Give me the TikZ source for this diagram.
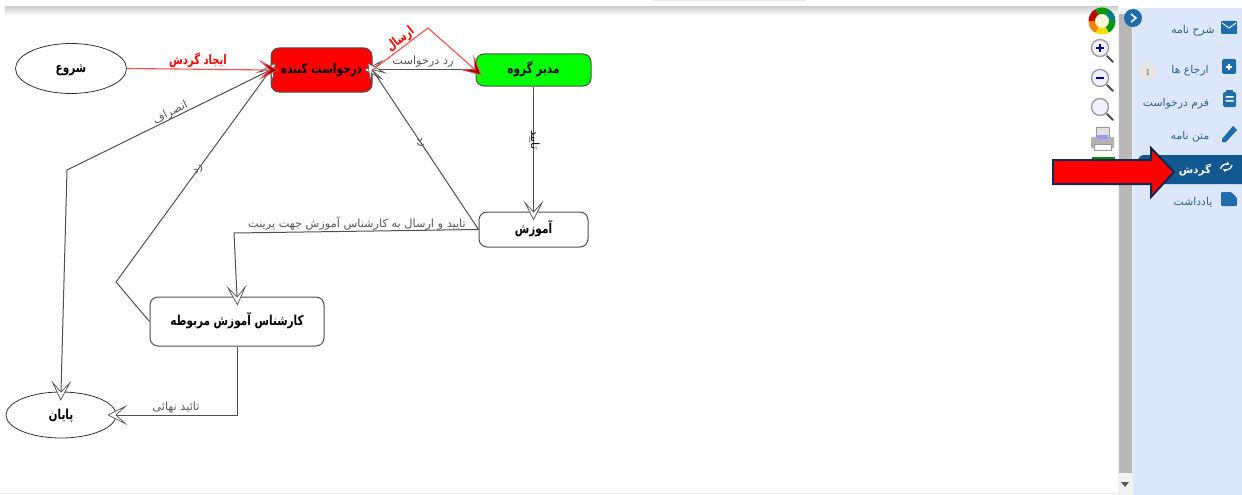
\documentclass[tikz,border=0pt]{standalone}
\usepackage{fontspec}
\usetikzlibrary{arrows.meta,shapes.geometric,calc}
\TeXXeTstate=1
\newfontfamily\fa[Script=Arabic]{DejaVu Sans}
\newcommand{\rl}[1]{{\fa\beginR #1\endR}}
\newcommand{\rlt}[1]{\raisebox{0pt}{\scalebox{1}[1.3]{\fa\beginR #1\endR}}}
\definecolor{panel}{HTML}{DDE7FB}
\definecolor{bluei}{HTML}{1F6CAC}
\definecolor{rowblue}{HTML}{10588F}
\definecolor{menutxt}{HTML}{2A6496}
\definecolor{navy}{HTML}{14284F}
\definecolor{linegray}{HTML}{505050}
\definecolor{softred}{HTML}{FF4A4A}
\tikzset{
  x=1pt,y=-1pt,
  txtbox/.style={text height=10pt,text depth=2pt,inner sep=0pt},
  state/.style={draw=linegray,line width=1pt,rounded corners=8pt,txtbox,font=\fontsize{10.5}{13}\selectfont\bfseries,text=black},
  oval/.style={draw=black!80,line width=.8pt,ellipse,fill=white,txtbox,font=\fontsize{10.5}{13}\selectfont\bfseries,text=black},
  opentip/.style={-{Stealth[length=20pt,width=20pt,inset=11pt,open,fill=white,color=linegray,line width=.7pt]},shorten >=-9pt},
  conn/.style={draw=linegray,line width=1pt,opentip},
  redconn/.style={draw=softred,line width=1.1pt,-{Stealth[length=20pt,width=20pt,inset=11pt,fill=red!60!black,color=softred,line width=.7pt]},shorten >=-8pt},
  lbl/.style={txtbox,font=\fontsize{11.3}{13}\selectfont,text=black!65},
  redlbl/.style={txtbox,font=\fontsize{10}{12}\selectfont\bfseries,text=red},
  menu/.style={txtbox,font=\fontsize{10.8}{12}\selectfont,text=menutxt},
  micon/.style={fill=bluei,draw=none},
  lens/.style={draw=gray!80,line width=1.3pt,fill=blue!6},
  lenshandle/.style={draw=black!70,line width=2pt,line cap=round},
}
\begin{document}
\begin{tikzpicture}
\useasboundingbox (0,0) rectangle (1242,495);
\fill[white] (0,0) rectangle (1242,495);
% frame shadow
\fill[blue!10] (652,0) rectangle (806,1);
\shade[top color=black!18,bottom color=white] (5,7) rectangle (1118,16);
\fill[black!8] (0,493) rectangle (1242,494);
% side panel and scrollbar
\fill[black!5] (1118,8) rectangle (1133,495);
\fill[black!28] (1119,14) rectangle (1132,473);
\fill[black!65] (1121,482) -- (1129,482) -- (1125,487) -- cycle;
\fill[panel] (1133,8) rectangle (1242,495);
\fill[rowblue,rounded corners=6pt] (1138,155) rectangle (1252,184);
% tool icons
\foreach \a/\c in {0/green!60!black,60/yellow!80!orange,120/orange,180/red!75!black,240/green!60!black,300/teal}{
  \fill[\c] (1102,21) ++(\a:13.5) arc[start angle=\a,end angle=\a+60,radius=13.5] -- (1102,21) -- cycle;}
\fill[white!85!yellow] (1102,21) circle (7);
\fill[bluei] (1133,18) circle (9);
\draw[white,line width=1.6pt] (1131,14) -- (1136,18) -- (1131,22);
\draw[lenshandle] (1107,56) -- (1113,62);
\draw[lens] (1100,48) circle (8.5);
\draw[blue!70!black,line width=1.2pt] (1096,48) -- (1104,48) (1100,44) -- (1100,52);
\draw[lenshandle] (1107,85) -- (1113,91);
\draw[lens] (1100,78) circle (8.5);
\draw[blue!70!black,line width=1.2pt] (1096,78) -- (1104,78);
\draw[lenshandle] (1107,114) -- (1113,120);
\draw[lens] (1100,107) circle (8.5);
\fill[black!12,draw=black!40] (1096,127) rectangle (1109,137);
\fill[black!30,rounded corners=1pt] (1091,137) rectangle (1114,148);
\fill[blue!40] (1097,135) rectangle (1108,139);
\fill[white,draw=black!40] (1094,144) rectangle (1111,150);
\fill[green!55!black] (1092,157) rectangle (1115,162);
% menu items
\node[menu] (m1) at (1193,30) {\rl{شرح نامه}};
\node[menu] (m2) at (1190,70) {\rl{ارجاع ها}};
\fill[black!10] (1148,71) circle (9);
\node[menu,text=black!70,font=\fontsize{9}{10}\selectfont] (badge) at (1148,71) {1};
\node[menu] (m3) at (1176,102) {\rl{فرم درخواست}};
\node[menu] (m4) at (1190,135) {\rl{متن نامه}};
\node[menu,text=white,font=\fontsize{10.5}{12}\selectfont\bfseries] (m5) at (1195,169) {\rl{گردش}};
\node[menu] (m6) at (1193,201) {\rl{یادداشت}};
% menu icons
\fill[micon,rounded corners=1pt] (1221,21) rectangle (1237,34);
\draw[white,line width=1pt] (1222,23) -- (1229,28) -- (1236,23);
\fill[micon,rounded corners=1.5pt] (1222,59) rectangle (1236,74);
\draw[white,line width=1.6pt] (1226,67) -- (1232,67) (1229,64) -- (1229,70);
\fill[micon,rounded corners=1.5pt] (1223,92) rectangle (1236,107);
\fill[white] (1225.5,96) rectangle (1233.5,97.5) (1225.5,100) rectangle (1233.5,101.5);
\fill[micon] (1226,90) rectangle (1233,94);
\fill[micon] (1222,139) -- (1233,126) -- (1237,130) -- (1226,142) -- (1222,142) -- cycle;
\draw[white,line width=1.3pt,-{Stealth[length=3.5pt,width=4pt]}] (1220.5,169) arc[start angle=190,end angle=300,radius=6];
\draw[white,line width=1.3pt,-{Stealth[length=3.5pt,width=4pt]}] (1232,165) arc[start angle=10,end angle=120,radius=6];
\fill[micon,rounded corners=1pt] (1221,192) -- (1231,192) -- (1237,198) -- (1237,206) -- (1221,206) -- cycle;
% workflow nodes
\node[oval,minimum width=111pt,minimum height=50pt] (start) at (71,68.5) {\rlt{شروع}};
\node[state,fill=red,minimum width=101pt,minimum height=44pt] (req) at (321.5,70) {\rlt{درخواست کننده}};
\node[state,fill=green,minimum width=115pt,minimum height=32pt] (grp) at (533.5,70) {\rlt{مدیر گروه}};
\node[state,fill=white,minimum width=109pt,minimum height=35pt] (edu) at (533.5,229.5) {\rlt{آموزش}};
\node[state,fill=white,minimum width=174pt,minimum height=49pt] (exp) at (237,321.5) {\rlt{کارشناس آموزش مربوطه}};
\node[oval,minimum width=110pt,minimum height=46pt] (fin) at (61,415) {\rlt{پایان}};
% bend points
\coordinate (b1) at (428,28);
\coordinate (b2) at (234,233);
\coordinate (b3) at (116,282);
\coordinate (b4) at (67,170);
\coordinate (b5) at (237,415);
% connectors
\draw[conn] (grp.west) -- (req.east);
\draw[conn] (grp.south) -- (edu.north);
\draw[conn] (edu.west) -- (req.east);
\draw[conn,rounded corners=0pt] (edu.west) -- (b2) -- (exp.north);
\draw[conn] (exp.west) -- (b3) -- (req.west);
\draw[conn] (req.west) -- (b4) -- (fin.north);
\draw[conn] (exp.south) -- (b5) -- (fin.east);
\draw[redconn] (start.east) -- (req.west);
\draw[redconn] (req.east) -- (b1) -- (grp.west);
% edge labels
\node[redlbl] (l1) at (198,61) {\rlt{ایجاد گردش}};
\node[redlbl,rotate=38] (l2) at (400,39) {\rlt{ارسال}};
\node[lbl] (l3) at (423,61) {\rl{رد درخواست}};
\node[lbl,rotate=-90,text=black] (l4) at (535,140) {\rl{تایید}};
\node[lbl,rotate=-60] (l5) at (423,141) {\rl{رد}};
\node[lbl] (l6) at (357,223) {\rl{تایید و ارسال به کارشناس آموزش جهت پرینت}};
\node[lbl,rotate=55] (l7) at (196,168) {\rl{رد}};
\node[lbl,rotate=27] (l8) at (170,112) {\rl{انصراف}};
\node[lbl] (l9) at (176,406) {\rl{تائید نهائی}};
% pointer arrow
\draw[navy,fill=red,line width=2pt,miter limit=10] (1053,160) -- (1151,160) -- (1151,148) -- (1174,172) -- (1151,197) -- (1151,184) -- (1053,184) -- cycle;
\end{tikzpicture}
\end{document}
